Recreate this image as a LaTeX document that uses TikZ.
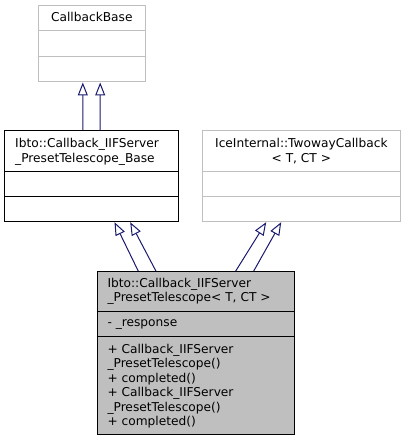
\documentclass[tikz,border=0pt]{standalone}
\usepackage{fontspec}
\setmainfont{DejaVu Sans}
\usetikzlibrary{arrows.meta,calc}
\definecolor{edgeblue}{HTML}{191970}
\definecolor{grey75}{HTML}{BFBFBF}
\begin{document}
\begin{tikzpicture}[x=1bp,y=-1bp,
  umlbox/.style={draw=black,line width=1bp,inner sep=0pt,rectangle},
  lightbox/.style={umlbox,draw=grey75},
  sep/.style={line width=1bp},
  txt/.style={inner sep=0pt,font=\fontsize{12.2bp}{14.5bp}\selectfont},
  inh/.style={draw=edgeblue,line width=1bp,-{Triangle[length=13bp,width=10bp,fill=white]}}]
\useasboundingbox (0,0) rectangle (405,441);
% boxes
\node[lightbox,minimum width=107bp,minimum height=76.7bp] (cb) at (91.8,43.65) {};
\node[umlbox,minimum width=174bp,minimum height=90.7bp] (base) at (91.7,176.35) {};
\node[lightbox,minimum width=197.3bp,minimum height=90.7bp] (tw) at (301.35,176.35) {};
\node[umlbox,fill=grey75,minimum width=196.7bp,minimum height=162.6bp] (der) at (195.65,353) {};
% separators
\draw[sep,grey75] ($(cb.north west)+(0,26)$) -- ($(cb.north east)+(0,26)$);
\draw[sep,grey75] ($(cb.north west)+(0,51.4)$) -- ($(cb.north east)+(0,51.4)$);
\draw[sep] ($(base.north west)+(0,40.7)$) -- ($(base.north east)+(0,40.7)$);
\draw[sep] ($(base.north west)+(0,65.7)$) -- ($(base.north east)+(0,65.7)$);
\draw[sep,grey75] ($(tw.north west)+(0,40.7)$) -- ($(tw.north east)+(0,40.7)$);
\draw[sep,grey75] ($(tw.north west)+(0,65.7)$) -- ($(tw.north east)+(0,65.7)$);
\draw[sep] ($(der.north west)+(0,40)$) -- ($(der.north east)+(0,40)$);
\draw[sep] ($(der.north west)+(0,65)$) -- ($(der.north east)+(0,65)$);
% texts
\node[txt,anchor=base] (cbt) at (91.8,22) {CallbackBase};
\node[txt,anchor=base west] (bt1) at (15,148) {Ibto::Callback\_IIFServer};
\node[txt,anchor=base west] (bt2) at (15,162.5) {\_PresetTelescope\_Base};
\node[txt,anchor=base] (tt1) at (301.35,148) {IceInternal::TwowayCallback};
\node[txt,anchor=base] (tt2) at (301.35,162.5) {< T, CT >};
\node[txt,anchor=base west] (dt1) at (107.3,287) {Ibto::Callback\_IIFServer};
\node[txt,anchor=base west] (dt2) at (107.3,301.5) {\_PresetTelescope< T, CT >};
\node[txt,anchor=base west] (da1) at (107.3,326) {- \_response};
\node[txt,anchor=base west] (dm1) at (107.3,353) {+ Callback\_IIFServer};
\node[txt,anchor=base west] (dm2) at (107.3,367.5) {\_PresetTelescope()};
\node[txt,anchor=base west] (dm3) at (107.3,382) {+ completed()};
\node[txt,anchor=base west] (dm4) at (107.3,396.5) {+ Callback\_IIFServer};
\node[txt,anchor=base west] (dm5) at (107.3,411) {\_PresetTelescope()};
\node[txt,anchor=base west] (dm6) at (107.3,425.5) {+ completed()};
% inheritance connectors
\draw[inh] ([xshift=78.6bp]base.north west) -- ([xshift=45bp]cb.south west);
\draw[inh] ([xshift=96bp]base.north west) -- ([xshift=62.4bp]cb.south west);
\draw[inh] ([xshift=41.5bp]der.north west) -- ([xshift=110.3bp]base.south west);
\draw[inh] ([xshift=59.2bp]der.north west) -- ([xshift=126bp]base.south west);
\draw[inh] ([xshift=138.8bp]der.north west) -- ([xshift=64bp]tw.south west);
\draw[inh] ([xshift=156.8bp]der.north west) -- ([xshift=79bp]tw.south west);
\end{tikzpicture}
\end{document}
